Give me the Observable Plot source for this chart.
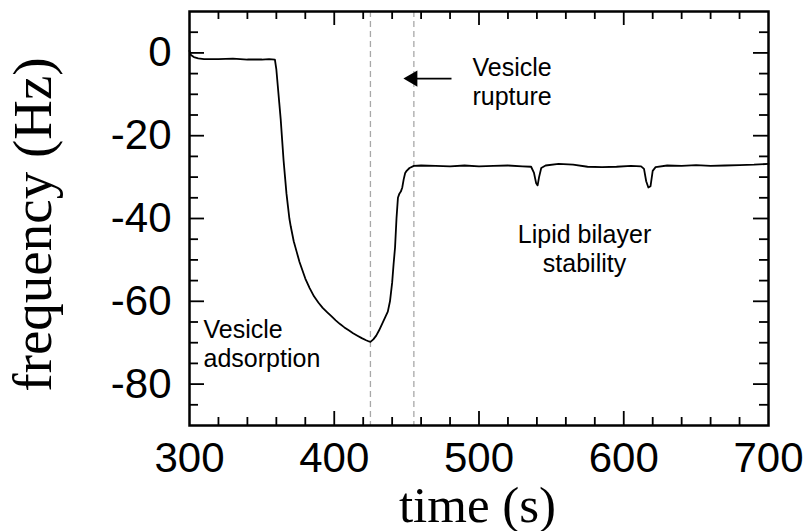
<!DOCTYPE html>
<html><head><meta charset="utf-8">
<script src="https://cdn.jsdelivr.net/npm/d3@7"></script>
<script src="https://cdn.jsdelivr.net/npm/@observablehq/plot@0.6"></script>
<style>body{margin:0;background:#fff}</style>
</head><body><div id="chart"></div>
<script>
// ---- data ----
const time = [300,301,303,306,310,320,330,340,350,355,359,360,361,362,363,364,365,366,367,368,369,370,372,374,376,378,380,383,386,389,392,395,398,401,404,407,410,413,416,419,422,424,425,427,429,431,433,435,437,438.5,440,441,442,443,444,445,446,447,448,449,450,452,455,460,470,480,490,500,510,520,530,536,538,539.5,540.5,541.5,543,546,555,565,575,585,595,605,612,614,615.5,617,618.5,620,622,630,640,650,660,670,680,690,700];
const freq = [0.5,-0.5,-1.0,-1.3,-1.5,-1.5,-1.4,-1.6,-1.6,-1.5,-1.6,-4,-8,-12,-16,-21,-26,-30,-34,-37,-40,-42,-45.5,-48,-50.5,-52.5,-54.5,-56.8,-58.8,-60.3,-61.6,-62.6,-63.6,-64.6,-65.5,-66.3,-67,-67.7,-68.3,-68.9,-69.4,-69.7,-69.8,-69.2,-68.3,-67,-65.5,-64,-62.5,-60,-55.5,-51,-47,-40,-35,-34,-33.5,-32.5,-30.5,-29,-28.5,-27.8,-27.3,-27.2,-27.3,-27.4,-27.2,-27.4,-27.3,-27.2,-27.4,-27.5,-29,-31.5,-32,-30,-27.8,-27.2,-26.8,-27.0,-27.5,-27.6,-27.5,-27.3,-27.4,-28,-31,-32.5,-32.2,-28.5,-27.6,-27.2,-27.3,-27.1,-27.3,-27.2,-27.1,-27.0,-26.8];

const xTickLabels = [300, 400, 500, 600, 700];
const yTickLabels = [0, -20, -40, -60, -80];
const xMajorTicks = [400, 500, 600];
const xMinorTicks = [320,340,360,380,420,440,460,480,520,540,560,580,620,640,660,680];
const yMajorTicks = [0, -20, -40, -60, -80];
const yMinorTicks = [5,-5,-10,-15,-25,-30,-35,-45,-50,-55,-65,-70,-75,-85];

const eventTimes = [425, 455];

const annLeftText = ["Vesicle\nrupture", "Vesicle\nadsorption"];
const annLeftX = [495.5, 309.7];
const annLeftY = [-0.6, -63.9];
const annCenterText = ["Lipid bilayer\nstability"];
const annCenterX = [572.9];
const annCenterY = [-41];

const arrowFromX = [481];
const arrowToX = [455];
const arrowTipX = [447.8];
const arrowY = [-6.2];

const xTitle = ["time (s)"];
const yTitle = ["frequency (Hz)"];

// ---- build ----
const series = time.map((t, i) => ({t, f: freq[i]}));
const sans = "Liberation Sans, Arial, Helvetica, sans-serif";
const serif = "Liberation Serif, Times New Roman, Times, serif";
const id = d => d;
const W = 806, H = 531, ML = 189, MR = 38, MT = 11, MB = 106;
const innerW = W - ML - MR, innerH = H - MT - MB;
const tickStyle = {stroke: "black", strokeWidth: 1.8};

// inward frame ticks: rules inset so that only a short stub remains at the edge
const tickBottom = (ticks, size) => Plot.ruleX(ticks, {x: id, insetTop: innerH - size, ...tickStyle});
const tickTop = (ticks, size) => Plot.ruleX(ticks, {x: id, insetBottom: innerH - size, ...tickStyle});
const tickLeft = (ticks, size) => Plot.ruleY(ticks, {y: id, insetRight: innerW - size, ...tickStyle});
const tickRight = (ticks, size) => Plot.ruleY(ticks, {y: id, insetLeft: innerW - size, ...tickStyle});

const chart = Plot.plot({
  width: W,
  height: H,
  marginLeft: ML,
  marginRight: MR,
  marginTop: MT,
  marginBottom: MB,
  style: {background: "#fff", color: "black"},
  x: {domain: [300, 700]},
  y: {domain: [-90, 10]},
  marks: [
    Plot.ruleX(eventTimes, {x: id, stroke: "#a8a8a8", strokeWidth: 1.3, strokeDasharray: "6,4"}),
    Plot.line(series, {x: "t", y: "f", stroke: "black", strokeWidth: 1.8}),
    tickBottom(xMinorTicks, 8), tickBottom(xMajorTicks, 14),
    tickTop(xMinorTicks, 8), tickTop(xMajorTicks, 14),
    tickLeft(yMinorTicks, 9), tickLeft(yMajorTicks, 15),
    tickRight(yMinorTicks, 9), tickRight(yMajorTicks, 15),
    Plot.frame({stroke: "black", strokeWidth: 2.5}),
    Plot.axisX(xTickLabels, {anchor: "bottom", tickSize: 0, tickPadding: 17, fontSize: 42, fontFamily: sans, label: null, tickFormat: d => String(d)}),
    Plot.axisY(yTickLabels, {anchor: "left", tickSize: 0, tickPadding: 18, fontSize: 42, fontFamily: sans, label: null, tickFormat: d => String(d)}),
    Plot.text(xTitle, {text: id, frameAnchor: "bottom", dx: -1.5, dy: 96, lineAnchor: "bottom", fontSize: 51, fontFamily: serif, fill: "black"}),
    Plot.text(yTitle, {text: id, frameAnchor: "left", rotate: -90, dx: -139, dy: 6, lineAnchor: "bottom", textAnchor: "middle", fontSize: 55, fontFamily: serif, fill: "black"}),
    Plot.text(annLeftText, {text: id, x: (d, i) => annLeftX[i], y: (d, i) => annLeftY[i], textAnchor: "start", lineAnchor: "top", lineHeight: 1.16, fontSize: 25, fontFamily: sans, fill: "black"}),
    Plot.text(annCenterText, {text: id, x: (d, i) => annCenterX[i], y: (d, i) => annCenterY[i], textAnchor: "middle", lineAnchor: "top", lineHeight: 1.16, fontSize: 25, fontFamily: sans, fill: "black"}),
    Plot.link(arrowY, {x1: (d, i) => arrowFromX[i], x2: (d, i) => arrowToX[i], y1: id, y2: id, stroke: "black", strokeWidth: 1.8}),
    Plot.dot(arrowY, {x: (d, i) => arrowTipX[i], y: id, dx: 9.3, symbol: "triangle", rotate: -90, r: 6, fill: "black", stroke: "none"})
  ]
});
document.getElementById("chart").appendChild(chart);
</script>
</body></html>
